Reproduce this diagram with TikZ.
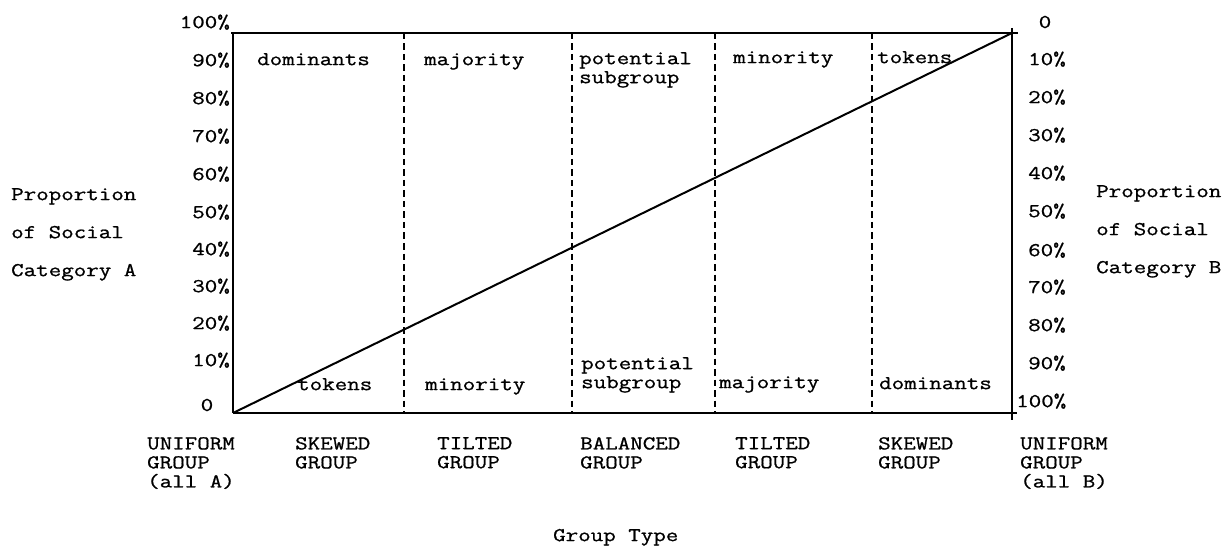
\documentclass[tikz,border=0pt]{standalone}
\usepackage{fontspec}
\setmainfont{Latin Modern Mono}[FakeStretch=1.24, FakeBold=0.9]
\usetikzlibrary{positioning}

\begin{document}
\begin{tikzpicture}[
    x=1pt, y=-1pt,
    font=\fontsize{19.6}{19}\selectfont,
    axis/.style={line width=2pt},
    divider/.style={line width=1.8pt, dash pattern=on 6.5pt off 4pt},
    diag/.style={line width=2pt},
    lscale/.style={inner sep=0pt, anchor=mid east},
    rscale/.style={inner sep=0pt, anchor=mid west},
    cell/.style={inner sep=0pt, anchor=mid west},
    cell2/.style={inner sep=0pt, anchor=north west, align=left},
    grouplabel/.style={inner sep=0pt, anchor=north west, align=left},
    title/.style={inner sep=0pt, anchor=mid west}
]
\useasboundingbox (0,0) rectangle (1226,548);

% Frame corners
\coordinate (o) at (233,413);
\coordinate (tl) at (233,33);
\coordinate (tr) at (1012,33);
\coordinate (br) at (1012,413);

% Frame
\draw[axis] (231,33) -- (1018,33);
\draw[axis] (o) -- (1017,413);
\draw[axis] (tl) -- (o);
\draw[axis] (1012,28) -- (1012,420);

% Group boundaries
\coordinate (d1t) at (404,33);  \coordinate (d1b) at (404,413);
\coordinate (d2t) at (572,33);  \coordinate (d2b) at (572,413);
\coordinate (d3t) at (715,33);  \coordinate (d3b) at (715,413);
\coordinate (d4t) at (872,33);  \coordinate (d4b) at (872,413);
\draw[divider] (d1t) -- (d1b);
\draw[divider] (d2t) -- (d2b);
\draw[divider] (d3t) -- (d3b);
\draw[divider] (d4t) -- (d4b);

% Diagonal
\draw[diag] (o) -- (tr);

% Left scale (category A)
\node[lscale] (a100) at (230,26) {100\%};
\node[lscale] (a90) at (230,64) {90\%};
\node[lscale] (a80) at (230,102) {80\%};
\node[lscale] (a70) at (230,140) {70\%};
\node[lscale] (a60) at (230,178) {60\%};
\node[lscale] (a50) at (230,216) {50\%};
\node[lscale] (a40) at (230,253) {40\%};
\node[lscale] (a30) at (230,290) {30\%};
\node[lscale] (a20) at (230,327) {20\%};
\node[lscale] (a10) at (230,364) {10\%};
\node[inner sep=0pt] (a0) at (207,405) {0};

% Right scale (category B)
\node[inner sep=0pt] (b0) at (1045,22) {0};
\node[rscale] (b10) at (1028,63) {10\%};
\node[rscale] (b20) at (1028,101) {20\%};
\node[rscale] (b30) at (1028,139) {30\%};
\node[rscale] (b40) at (1028,177) {40\%};
\node[rscale] (b50) at (1028,215) {50\%};
\node[rscale] (b60) at (1028,254) {60\%};
\node[rscale] (b70) at (1028,291) {70\%};
\node[rscale] (b80) at (1028,329) {80\%};
\node[rscale] (b90) at (1028,367) {90\%};
\node[rscale] (b100) at (1016,405) {100\%};

% Axis titles
\node[title] (ta1) at (11,198) {Proportion};
\node[title] (ta2) at (11,236) {of Social};
\node[title] (ta3) at (11,274) {Category A};
\node[title] (tb1) at (1096,195) {Proportion};
\node[title] (tb2) at (1096,233) {of Social};
\node[title] (tb3) at (1096,271) {Category B};

% Top row (category A)
\node[cell] (u1) at (257,63) {dominants};
\node[cell] (u2) at (424,63) {majority};
\node[cell2] (u3) at (579,52) {potential\\subgroup};
\node[cell] (u4) at (733,61) {minority};
\node[cell] (u5) at (877,61) {tokens};

% Bottom row (category A)
\node[cell] (l1) at (297,388) {tokens};
\node[cell] (l2) at (425,388) {minority};
\node[cell2] (l3) at (581,357) {potential\\subgroup};
\node[cell] (l4) at (719,386) {majority};
\node[cell] (l5) at (879,387) {dominants};

% Group types
\node[grouplabel] (g1) at (147,437) {UNIFORM\\GROUP\\(all A)};
\node[grouplabel] (g2) at (295,437) {SKEWED\\GROUP};
\node[grouplabel] (g3) at (437,437) {TILTED\\GROUP};
\node[grouplabel] (g4) at (580,437) {BALANCED\\GROUP};
\node[grouplabel] (g5) at (735,437) {TILTED\\GROUP};
\node[grouplabel] (g6) at (878,437) {SKEWED\\GROUP};
\node[grouplabel] (g7) at (1020,437) {UNIFORM\\GROUP\\(all B)};

\node[title] (gt) at (553,539) {Group Type};

\end{tikzpicture}
\end{document}
